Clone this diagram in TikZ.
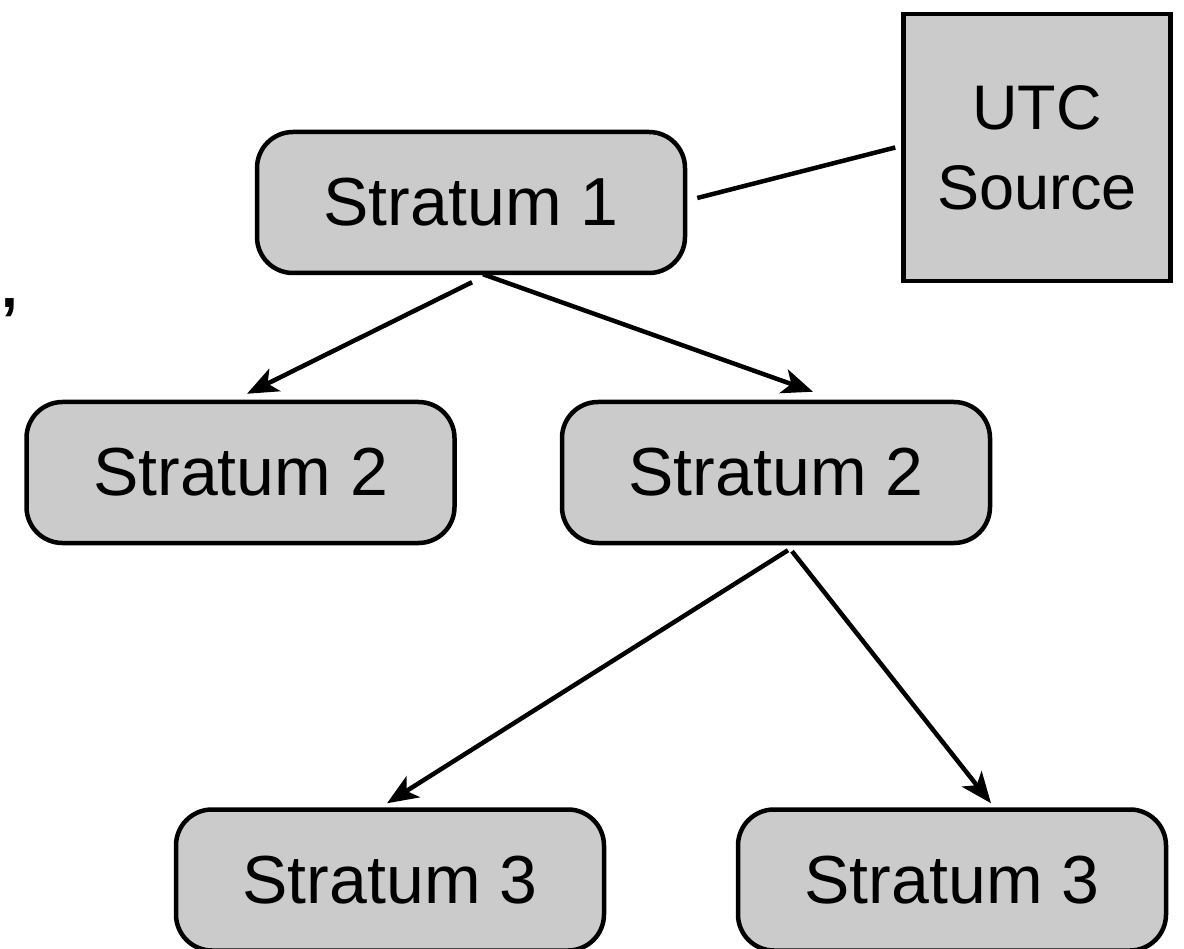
\documentclass[tikz,border=0pt]{standalone}
\usepackage{fontspec}
\setmainfont{Liberation Sans}
\usetikzlibrary{arrows.meta}
\definecolor{boxgray}{HTML}{CBCBCB}
\tikzset{
  stratbox/.style={draw=black, fill=boxgray, line width=4.5pt, rounded corners=36pt,
    minimum width=428pt, minimum height=141pt, inner sep=0pt,
    font=\fontsize{68}{80}\selectfont},
  srcbox/.style={draw=black, fill=boxgray, line width=4.5pt,
    minimum width=267pt, minimum height=267pt, inner sep=0pt, align=center,
    font=\fontsize{63}{80}\selectfont},
  link/.style={draw=black, line width=4.5pt},
  arr/.style={link, -{Stealth[length=31pt,width=25pt,inset=8pt]}}
}
\begin{document}
\begin{tikzpicture}[x=1pt,y=-1pt]
\useasboundingbox (0,0) rectangle (1184,949);
\node[stratbox] (s1) at (471,202.5) {Stratum 1};
\node[srcbox] (utc) at (1037,147.5) {UTC\\Source};
\node[stratbox] (s2a) at (240.5,472.5) {Stratum 2};
\node[stratbox] (s2b) at (776,472.5) {Stratum 2};
\node[stratbox] (s3a) at (390,880) {Stratum 3};
\node[stratbox] (s3b) at (952,880) {Stratum 3};
\node[inner sep=0pt, font=\fontsize{60}{70}\selectfont\bfseries] (comma) at (10,308) {,};
\draw[link] ([xshift=10pt,yshift=4.5pt]s1.east) -- ([xshift=-6pt]utc.west);
\draw[arr] ([xshift=1pt,yshift=-7pt]s1.south) -- ([xshift=6.5pt,yshift=6pt]s2a.north);
\draw[arr] ([xshift=12pt,yshift=1pt]s1.south) -- ([xshift=37pt,yshift=8pt]s2b.north);
\draw[arr] ([xshift=12pt,yshift=-5pt]s2b.south) -- ([xshift=-3pt,yshift=4pt]s3a.north);
\draw[arr] ([xshift=16pt,yshift=-6pt]s2b.south) -- ([xshift=39pt,yshift=4pt]s3b.north);
\end{tikzpicture}
\end{document}
